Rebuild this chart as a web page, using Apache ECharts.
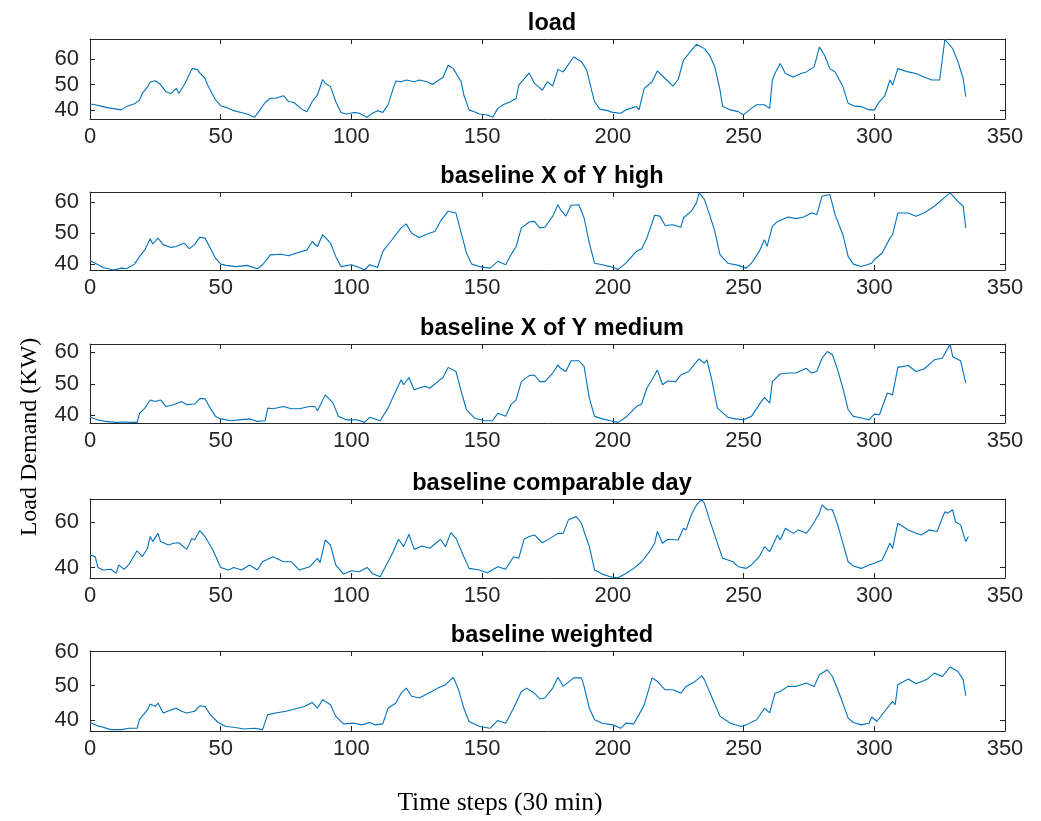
<!DOCTYPE html>
<html>
<head>
<meta charset="utf-8">
<script src="https://cdn.jsdelivr.net/npm/echarts@6/dist/echarts.min.js"></script>
<style>
  html, body { margin: 0; padding: 0; background: #fff; }
  #container { width: 1041px; height: 821px; }
</style>
</head>
<body>
<div id="container"></div>
<script>
// values as [time step, kW]
var loadVals = [[0,42.3],[2,42],[5,41.3],[7,40.8],[9,40.5],[12,40],[14,41.3],[17,42.4],[19,44],[20,46.5],[22,49],[23,51],[25,51.5],[27,50],[29,47.2],[31,46.5],[33,48.5],[34,46.5],[36,49.8],[37,51.8],[39,56.3],[41,56],[42,54.6],[44,52.4],[45,49.8],[47,45.9],[48,44],[50,41.6],[52,41],[55,39.7],[57,39.2],[60,38.4],[63,37.1],[65,40],[67,42.9],[69,44.6],[71,44.6],[74,45.6],[76,43.3],[78,42.9],[81,40.3],[83,39.3],[85,43.3],[87,45.9],[89,52],[90,50.5],[92,49.2],[94,43.3],[96,39],[98,38.4],[101,39],[103,38.7],[106,37.1],[108,38.7],[110,39.7],[112,39],[114,42],[116,48.5],[117,51.4],[119,51.1],[121,51.8],[124,51.1],[126,51.8],[129,51.1],[131,50],[133,51.5],[135,52.8],[137,57.6],[139,56.3],[142,51],[143,45.9],[145,40],[147,39.3],[149,38.4],[152,38],[154,37.1],[156,40.6],[158,42],[161,43.3],[163,44.6],[164,49.8],[168,54.6],[170,50.5],[173,47.8],[175,51.1],[177,49.4],[179,56],[181,55],[185,60.9],[188,59],[190,55.7],[192,47.2],[193,43.3],[195,40.3],[198,39.7],[200,39],[203,38.7],[205,40],[209,41.3],[210,40],[212,48.5],[215,51.1],[217,55.4],[220,52.4],[223,49.4],[225,52],[227,59.6],[230,63.5],[232,65.9],[235,64.2],[237,61.6],[239,57],[241,47.8],[242,41.3],[245,40],[248,39.3],[250,38],[253,40.6],[255,42],[258,42],[260,40.6],[261,51.8],[262,54.4],[264,58.3],[266,54.4],[269,53],[272,54.4],[274,55],[277,57],[279,64.8],[281,61.6],[283,56.3],[285,55],[288,49.2],[290,42.6],[292,41.6],[295,41.3],[298,40],[300,40],[302,43.3],[304,45.5],[306,51.8],[307,49.8],[309,56.3],[313,55],[316,54.4],[319,53],[322,51.8],[325,51.8],[327,67.8],[330,64.2],[332,59],[334,52.4],[335,45.2]];

var highVals = [[0,41],[2,40.2],[5,38.8],[9,38],[12,38.6],[14,38.4],[17,39.9],[19,42.4],[21,44.5],[23,48.1],[24,46.4],[26,48.3],[28,46.2],[31,45.3],[33,45.6],[36,46.7],[38,44.9],[40,46.2],[42,48.6],[44,48.3],[46,45.1],[48,41.8],[50,39.9],[52,39.5],[56,39.1],[60,39.5],[64,38.4],[66,39.7],[69,42.9],[73,43.1],[76,42.6],[79,43.5],[83,44.5],[85,47.2],[87,45.6],[89,49.4],[92,46.7],[94,42.4],[96,39.1],[100,39.7],[103,38.8],[105,38],[107,39.7],[110,38.8],[112,44],[115,47.2],[119,51.6],[121,52.9],[123,49.9],[126,48.5],[129,49.6],[132,50.5],[134,53.7],[137,57],[140,56.4],[142,49.9],[144,43.5],[146,39.9],[149,39.1],[153,38.6],[156,40.8],[159,39.7],[161,42.9],[163,45.6],[165,51.6],[168,53.5],[170,53.7],[172,51.6],[174,51.8],[177,55.4],[179,59.1],[180,57.5],[182,55.4],[184,58.9],[187,59.1],[189,54.8],[191,46.7],[193,40.2],[196,39.7],[199,39.1],[202,38.2],[205,40.2],[209,44],[211,44.9],[213,48.3],[216,55.7],[218,55.4],[220,52.4],[223,52.6],[226,51.8],[227,54.8],[230,57],[232,59.7],[233,62.9],[235,60.8],[237,55.9],[239,50.5],[241,42.9],[244,40.2],[248,39.5],[251,38.6],[253,40.2],[256,44],[258,47.8],[259,45.6],[261,52.1],[263,53.7],[267,55.1],[270,54.6],[273,55.1],[276,56.4],[278,55.9],[280,61.8],[283,62.4],[285,55.9],[288,49.4],[290,42.4],[292,39.9],[295,39.1],[299,40.2],[300,41.3],[303,43.5],[306,48.3],[307,49.4],[309,56.4],[313,56.4],[316,55.4],[319,56.4],[323,58.6],[326,60.8],[329,62.9],[332,60.2],[334,58.6],[335,51.6]];

var mediumVals = [[0,39.4],[3,38.6],[6,38.1],[10,37.8],[13,37.9],[16,37.8],[18,37.8],[19,40.7],[21,42.3],[23,44.9],[25,44.4],[27,44.9],[29,42.8],[32,43.4],[35,44.4],[37,43.4],[40,43.6],[42,45.3],[44,45.3],[46,42.3],[48,39.7],[50,38.9],[54,38.3],[57,38.6],[61,38.9],[64,38.1],[67,38.3],[68,42.3],[70,42.1],[74,42.8],[77,42.1],[80,42.1],[84,42.8],[86,42.8],[87,41.5],[90,46.5],[93,43.9],[95,39.7],[98,38.6],[102,38.6],[105,37.8],[107,39.4],[111,38.3],[114,42.3],[116,46],[119,51.3],[120,49.7],[122,52],[124,48.1],[128,49.2],[130,48.6],[133,50.7],[135,52],[137,55.2],[140,53.9],[142,47.6],[144,41.8],[147,39.2],[151,38.3],[154,38.3],[156,40.7],[159,39.7],[161,43.4],[163,44.9],[165,50.7],[168,52.6],[170,52.8],[172,50.7],[174,50.7],[177,53.4],[179,56],[180,54.9],[182,53.9],[184,57.3],[187,57.3],[189,55.5],[191,45.5],[193,39.7],[196,38.9],[199,38.3],[202,37.8],[205,39.4],[209,42.8],[211,43.6],[213,48.6],[216,52.8],[217,54.4],[219,49.7],[221,50.9],[224,50.7],[226,52.8],[229,53.9],[231,56],[233,57.9],[235,56.5],[236,57.6],[238,50.7],[240,42.3],[244,39.4],[247,38.9],[250,38.6],[253,39.7],[256,43.4],[258,45.7],[260,43.9],[261,50.7],[264,53.1],[267,53.4],[270,53.4],[274,54.9],[276,53.4],[278,53.9],[280,58.1],[282,60.2],[284,59.2],[286,54.4],[288,48.6],[290,41.8],[292,39.7],[295,39.2],[298,38.6],[300,40.4],[302,40.2],[305,47.1],[307,46.5],[309,55.2],[313,55.8],[316,53.9],[319,54.7],[323,57.6],[326,58.1],[329,62.5],[330,58.6],[333,57.3],[335,50.2]];

var compVals = [[0,45.5],[2,44.8],[3,40.1],[5,39],[8,39.3],[10,37.5],[11,41.2],[13,39.3],[15,41.6],[18,47.4],[20,44.8],[22,48.5],[23,53.6],[24,51.4],[26,55],[27,51.4],[30,49.9],[32,50.7],[34,50.9],[37,48],[39,52.8],[40,52.1],[42,56.2],[44,53.6],[47,47.7],[49,42.6],[50,40.1],[53,39],[55,40.1],[58,39],[61,41.2],[64,39],[66,42.6],[70,44.8],[74,42.6],[77,42.6],[80,39],[84,40.4],[87,44.1],[88,42.2],[90,52.1],[92,49.9],[94,41.2],[97,37.2],[100,38.7],[103,38.2],[106,40.1],[108,37.5],[111,36],[114,42.6],[116,47],[118,52.4],[120,49.2],[122,54.6],[124,48],[127,49.5],[130,48.5],[134,52.4],[136,49.2],[138,55.3],[140,52.8],[143,44.8],[145,39.7],[149,39],[152,37.8],[156,40.4],[159,39.3],[162,44.8],[164,44.1],[166,52.4],[168,53.6],[170,54.3],[173,50.9],[176,52.8],[179,55],[181,55],[183,60.9],[186,62.3],[188,59.4],[189,55.8],[191,49.2],[193,39],[196,37.2],[199,36],[202,35.6],[205,37.5],[208,39.7],[211,42.6],[214,47],[216,50.7],[217,55.8],[219,50.7],[221,52.4],[225,52.1],[227,57.2],[228,56.5],[230,63.1],[232,67.4],[234,69.8],[235,68.2],[237,60.9],[240,50.7],[242,44.1],[246,42.6],[248,40.4],[251,39.7],[253,41.2],[256,44.8],[258,49.2],[260,47],[263,54.3],[264,52.1],[266,57.2],[269,55],[271,56.5],[274,55],[276,58],[279,63.8],[280,67.4],[282,65.3],[284,65.3],[286,58.7],[288,50.7],[290,42.6],[292,40.7],[295,39.7],[298,41.2],[300,41.9],[303,43.4],[306,50.7],[307,48.5],[309,59.4],[313,56.5],[316,55],[318,54.3],[321,56.5],[324,55.8],[327,64.5],[328,63.8],[330,65.3],[331,60.1],[333,58.7],[334,55],[335,51.4],[336,53.6]];

var weightVals = [[0,39.2],[3,38.2],[5,37.8],[8,37.1],[12,37.1],[15,37.5],[18,37.5],[19,40.2],[22,42.9],[23,44.6],[25,43.9],[26,44.9],[28,42],[31,42.9],[33,43.4],[35,42.5],[37,42],[40,42.5],[42,44.1],[44,43.9],[46,41.5],[49,39.2],[52,38],[55,37.8],[59,37.3],[63,37.5],[66,37.1],[68,41.5],[71,42],[75,42.5],[78,43.1],[82,43.9],[85,45.1],[87,43.4],[89,45.9],[92,44.4],[94,41],[97,38.8],[101,39],[104,38.5],[107,39.2],[109,38.5],[112,38.8],[114,43.4],[117,44.9],[119,47.8],[121,49.3],[123,46.9],[126,46.4],[130,48],[133,49.3],[136,50.3],[139,52.5],[141,48.8],[143,43.4],[145,39.5],[149,38],[153,37.5],[156,39.8],[159,39],[162,43.4],[165,48.3],[167,49.3],[170,47.8],[172,46.1],[174,46.4],[177,49.3],[179,52.5],[181,49.8],[185,52.3],[188,52.3],[189,49.8],[191,43.4],[193,40],[196,39],[200,38.5],[203,37.5],[205,39],[208,38.8],[211,42.9],[212,44.4],[215,52.3],[217,51.3],[220,48.8],[223,48.8],[226,47.8],[228,49.8],[231,51],[234,52.9],[235,51.8],[238,46.4],[241,41],[245,39],[249,38],[251,38.5],[255,40],[258,43.4],[260,42],[262,47.8],[264,48.3],[267,49.8],[270,49.8],[274,50.8],[277,49.8],[279,53.2],[282,54.7],[284,52.7],[287,46.9],[290,40.5],[292,39.2],[295,38.5],[298,39],[299,40.8],[301,39.5],[304,42.5],[307,45.4],[308,44.4],[309,50.3],[313,52],[316,50.6],[320,51.8],[323,53.7],[326,52.7],[329,55.5],[332,54.2],[334,51.8],[335,47.1]];

var panelTitles = ['load', 'baseline X of Y high', 'baseline X of Y medium', 'baseline comparable day', 'baseline weighted'];
var panelData = [loadVals, highVals, mediumVals, compVals, weightVals];
var yMins = [36.4, 38, 37.6, 35.5, 36.7];
var yMaxs = [68, 63.2, 62.6, 70, 60.2];
var yTicks = [[40, 50, 60], [40, 50, 60], [40, 50, 60], [40, 60], [40, 50, 60]];

var gridTops = [39, 192, 344, 499, 651];
var gridHeights = [80, 78, 79, 79, 80];

var myChart = echarts.init(document.getElementById('container'));

var axisCol = '#262626';
var tickFont = { fontFamily: 'Liberation Sans, Arial, sans-serif', fontSize: 22, color: axisCol };

var grids = [], xAxes = [], yAxes = [], series = [], titles = [];
for (var i = 0; i < 5; i++) {
    grids.push({ left: 90, right: 36, top: gridTops[i], height: gridHeights[i], show: false });
    titles.push({
        text: panelTitles[i],
        left: 547, top: gridTops[i] - 32, textAlign: 'center',
        textStyle: { fontFamily: 'Liberation Sans, Arial, sans-serif', fontSize: 23.5, fontWeight: 'bold', color: '#000' }
    });
    // bottom axis with labels
    xAxes.push({
        type: 'value', gridIndex: i, position: 'bottom', min: 0, max: 350, interval: 50,
        axisLine: { show: true, onZero: false, lineStyle: { color: axisCol, width: 1 } },
        axisTick: { show: true, inside: true, length: 5, lineStyle: { color: axisCol } },
        axisLabel: Object.assign({ margin: 7 }, tickFont),
        splitLine: { show: false }
    });
    // top axis (box)
    xAxes.push({
        type: 'value', gridIndex: i, position: 'top', min: 0, max: 350, interval: 50,
        axisLine: { show: true, onZero: false, lineStyle: { color: axisCol, width: 1 } },
        axisTick: { show: true, inside: true, length: 5, lineStyle: { color: axisCol } },
        axisLabel: { show: false },
        splitLine: { show: false }
    });
    yAxes.push({
        type: 'value', gridIndex: i, position: 'left', min: yMins[i], max: yMaxs[i],
        axisLine: { show: true, onZero: false, lineStyle: { color: axisCol, width: 1 } },
        axisTick: { show: true, inside: true, length: 5, customValues: yTicks[i], lineStyle: { color: axisCol } },
        axisLabel: Object.assign({ margin: 11, customValues: yTicks[i] }, tickFont),
        splitLine: { show: false }
    });
    yAxes.push({
        type: 'value', gridIndex: i, position: 'right', min: yMins[i], max: yMaxs[i],
        axisLine: { show: true, onZero: false, lineStyle: { color: axisCol, width: 1 } },
        axisTick: { show: true, inside: true, length: 5, customValues: yTicks[i], lineStyle: { color: axisCol } },
        axisLabel: { show: false },
        splitLine: { show: false }
    });
    series.push({
        type: 'line', name: panelTitles[i],
        xAxisIndex: i * 2, yAxisIndex: i * 2,
        data: panelData[i],
        showSymbol: false, clip: true,
        lineStyle: { color: '#0072BD', width: 1.1 },
        itemStyle: { color: '#0072BD' },
        animation: false
    });
}

var option = {
    backgroundColor: '#fff',
    animation: false,
    title: titles,
    grid: grids,
    xAxis: xAxes,
    yAxis: yAxes,
    series: series,
    graphic: [
        {
            type: 'text', x: 30, y: 437, rotation: Math.PI / 2,
            style: { text: 'Load Demand (KW)', font: '24px "Liberation Serif", "Times New Roman", serif', fill: '#000', align: 'center', verticalAlign: 'middle' }
        },
        {
            type: 'text', x: 500, y: 803,
            style: { text: 'Time steps (30 min)', font: '25.5px "Liberation Serif", "Times New Roman", serif', fill: '#000', align: 'center', verticalAlign: 'middle' }
        }
    ]
};

myChart.setOption(option);
</script>
</body>
</html>
